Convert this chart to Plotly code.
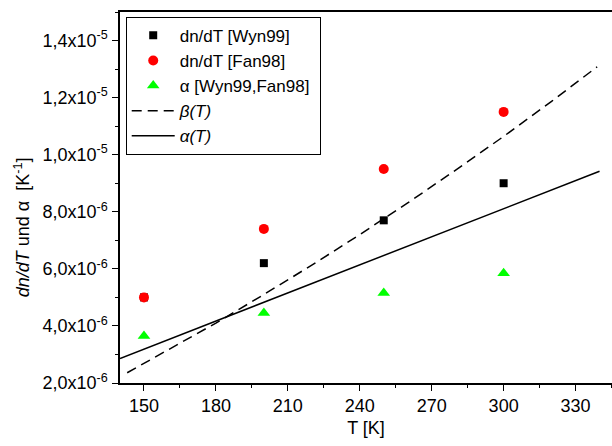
import plotly.graph_objects as go

# Measured data points (temperature in K, coefficients in 1/K)
T_meas = [150, 200, 250, 300]
dndT_wyn99 = [5.0e-6, 6.2e-6, 7.7e-6, 9.0e-6]
dndT_fan98 = [5.0e-6, 7.4e-6, 9.5e-6, 1.15e-5]
alpha_meas = [3.65e-6, 4.45e-6, 5.15e-6, 5.85e-6]

# Model curves
T_beta = [143, 160, 180, 200, 220, 240, 260, 280, 300, 320, 339]
beta_T = [2.36e-6, 3.15e-6, 4.10e-6, 5.10e-6, 6.13e-6, 7.20e-6,
          8.31e-6, 9.46e-6, 10.64e-6, 11.87e-6, 13.08e-6]
T_alpha = [140, 340]
alpha_T = [2.86e-6, 9.42e-6]

# Axis ticks
x_ticks = [150, 180, 210, 240, 270, 300, 330]
y_ticks = [2e-6, 4e-6, 6e-6, 8e-6, 1.0e-5, 1.2e-5, 1.4e-5]
y_ticktext = ["2,0x10<sup>-6</sup>", "4,0x10<sup>-6</sup>", "6,0x10<sup>-6</sup>",
              "8,0x10<sup>-6</sup>", "1,0x10<sup>-5</sup>", "1,2x10<sup>-5</sup>",
              "1,4x10<sup>-5</sup>"]

FONT = "Liberation Sans, Arial, sans-serif"

fig = go.Figure()
fig.add_trace(go.Scatter(
    x=T_meas, y=dndT_wyn99, mode="markers", name="dn/dT [Wyn99]",
    marker=dict(symbol="square", size=8, color="black")))
fig.add_trace(go.Scatter(
    x=T_meas, y=dndT_fan98, mode="markers", name="dn/dT [Fan98]",
    marker=dict(symbol="circle", size=10, color="#ff0000")))
fig.add_trace(go.Scatter(
    x=T_meas, y=alpha_meas, mode="markers", name="α [Wyn99,Fan98]&nbsp;",
    marker=dict(symbol="triangle-up", size=11, color="#00ff00")))
fig.add_trace(go.Scatter(
    x=T_beta, y=beta_T, mode="lines", name="<i>β(T)</i>",
    line=dict(color="black", width=1.5, dash="10px,6px")))
fig.add_trace(go.Scatter(
    x=T_alpha, y=alpha_T, mode="lines", name="<i>α(T)</i>",
    line=dict(color="black", width=1.5)))

axis_common = dict(
    showgrid=False, zeroline=False, showline=True, linecolor="black",
    linewidth=1.5, ticks="outside", ticklen=6, tickwidth=1.2, tickcolor="black",
    tickfont=dict(family=FONT, size=18, color="black"),
)

fig.update_xaxes(
    **axis_common, range=[140, 345.2], tickvals=x_ticks, mirror=True,
    minor=dict(ticks="outside", ticklen=3, tickwidth=1.2, tickcolor="black",
               tick0=150, dtick=15),
    title=dict(text="T [K]", font=dict(family=FONT, size=18, color="black"),
               standoff=6),
)
fig.update_yaxes(
    **axis_common, range=[2e-6, 1.5e-5], tickvals=y_ticks, ticktext=y_ticktext,
    ticklabelstandoff=1,
    minor=dict(ticks="outside", ticklen=3, tickwidth=1.2, tickcolor="black",
               tick0=0, dtick=1e-6),
)

fig.add_annotation(
    text="<i>dn/dT</i> und α  [K<sup>-1</sup>]", textangle=-90,
    xref="paper", yref="paper", x=-0.199, y=0.42,
    xanchor="center", yanchor="middle", showarrow=False,
    font=dict(family=FONT, size=18, color="black"),
)

fig.update_layout(
    width=612, height=446,
    margin=dict(l=120, r=0, t=12, b=63),
    plot_bgcolor="white", paper_bgcolor="white",
    showlegend=True,
    legend=dict(
        x=0.0116, y=0.987, xanchor="left", yanchor="top",
        bordercolor="black", borderwidth=1, bgcolor="white",
        font=dict(family=FONT, size=17, color="black"),
        tracegroupgap=0, itemwidth=43,
    ),
)

fig.write_html("out.html")
